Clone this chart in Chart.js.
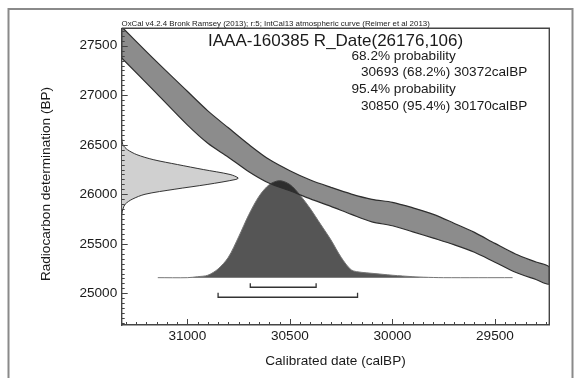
<!DOCTYPE html>
<html><head><meta charset="utf-8">
<script src="https://cdn.jsdelivr.net/npm/chart.js@4/dist/chart.umd.min.js"></script>
<style>html,body{margin:0;padding:0;background:#fff}#wrap{position:relative;width:581px;height:378px}</style>
</head><body><div id="wrap"><canvas id="c" width="581" height="378"></canvas></div>
<script>
const titleText = 'IAAA-160385 R_Date(26176,106)';
const noteText = 'OxCal v4.2.4 Bronk Ramsey (2013); r:5; IntCal13 atmospheric curve (Reimer et al 2013)';
const infoLines = ['68.2% probability', '30693 (68.2%) 30372calBP', '95.4% probability', '30850 (95.4%) 30170calBP'];
const xTitle = 'Calibrated date (calBP)';
const yTitle = 'Radiocarbon determination (BP)';
const xTickValues = [31000, 30500, 30000, 29500];
const yTickValues = [25000, 25500, 26000, 26500, 27000, 27500];

// calibration curve band (cal BP vs 14C BP, upper and lower edges)
const curveCalBP = [31320,31150,31000,30900,30800,30700,30600,30500,30400,30300,30200,30100,30000,29900,29800,29700,29600,29500,29400,29300,29235];
const curveUpper = [27690,27339,27040,26842,26671,26502,26350,26238,26144,26070,26002,25949,25919,25863,25797,25708,25615,25504,25397,25316,25265];
const curveLower = [27376,27019,26701,26515,26375,26228,26111,26035,25954,25878,25797,25722,25682,25621,25557,25491,25415,25314,25212,25139,25094];

// measured radiocarbon date distribution (relative probability)
const c14Values = [26560,26500,26450,26400,26350,26300,26250,26200,26165,26150,26100,26050,26000,25950,25900,25850,25800];
const c14Prob   = [0,0.01,0.05,0.13,0.27,0.48,0.70,0.93,1,0.98,0.74,0.45,0.20,0.09,0.03,0.01,0];

// calibrated date distribution (relative probability)
const calBP   = [31144,31000,30950,30900,30850,30800,30750,30700,30650,30600,30550,30500,30450,30400,30350,30300,30250,30200,30150,30100,30050,30000,29950,29900,29850,29800,29750,29414];
const calProb = [0,0,0.01,0.025,0.09,0.21,0.42,0.65,0.84,0.96,1.0,0.96,0.85,0.71,0.55,0.39,0.21,0.08,0.055,0.045,0.035,0.025,0.017,0.01,0.005,0.002,0,0];

// highest probability ranges
const range68 = [30693, 30372];
const range95 = [30850, 30170];

const FONT = "'Liberation Sans', Arial, sans-serif";

const bandPoints = curveCalBP.map((x, i) => ({x, y: curveUpper[i]}))
  .concat(curveCalBP.map((x, i) => ({x, y: curveLower[i]})).reverse());
const c14Points = c14Values.map((y, i) => ({x: c14Prob[i], y}));
const calPoints = calBP.map((x, i) => ({x, y: calProb[i]}));

const decor = {
  id: 'decor',
  beforeDraw(chart) {
    const ctx = chart.ctx;
    ctx.save();
    ctx.fillStyle = '#fff';
    ctx.fillRect(0, 0, chart.width, chart.height);
    ctx.restore();
  },
  afterDraw(chart) {
    const {ctx, chartArea: a, scales} = chart;
    const sx = scales.x, sy = scales.y, syp = scales.yp;
    ctx.save();
    // outer frame
    ctx.strokeStyle = '#8a8a8a';
    ctx.lineWidth = 2;
    ctx.beginPath();
    ctx.moveTo(8.5, 378); ctx.lineTo(8.5, 9); ctx.lineTo(572.5, 9); ctx.lineTo(572.5, 378);
    ctx.stroke();
    // plot frame top/right
    ctx.strokeStyle = '#444';
    ctx.lineWidth = 1.4;
    ctx.beginPath();
    ctx.moveTo(a.left, a.top); ctx.lineTo(a.right, a.top); ctx.lineTo(a.right, a.bottom);
    ctx.stroke();
    // ticks (inside)
    ctx.lineWidth = 1;
    ctx.strokeStyle = '#444';
    ctx.beginPath();
    for (let v = 29250; v <= 31300; v += 50) {
      const p = Math.round(sx.getPixelForValue(v)) + 0.5;
      const len = v % 500 === 0 ? 6 : 3;
      ctx.moveTo(p, a.bottom); ctx.lineTo(p, a.bottom - len);
    }
    for (let v = 24700; v <= 27650; v += 50) {
      const p = Math.round(sy.getPixelForValue(v)) + 0.5;
      const len = v % 500 === 0 ? 6 : 3;
      ctx.moveTo(a.left, p); ctx.lineTo(a.left + len, p);
    }
    ctx.stroke();
    // range brackets
    ctx.strokeStyle = '#333';
    ctx.lineWidth = 1.3;
    const bracket = (r, yLine, yEnd) => {
      const x1 = sx.getPixelForValue(r[0]), x2 = sx.getPixelForValue(r[1]);
      const yl = syp.getPixelForValue(yLine), ye = syp.getPixelForValue(yEnd);
      ctx.beginPath();
      ctx.moveTo(x1, ye); ctx.lineTo(x1, yl); ctx.lineTo(x2, yl); ctx.lineTo(x2, ye);
      ctx.stroke();
    };
    bracket(range68, -0.099, -0.058);
    bracket(range95, -0.202, -0.155);
    // texts
    ctx.fillStyle = '#1a1a1a';
    ctx.textBaseline = 'alphabetic';
    ctx.textAlign = 'left';
    ctx.font = '7.9px ' + FONT;
    ctx.fillText(noteText, 121.5, 26);
    ctx.textBaseline = 'middle';
    ctx.font = '17px ' + FONT;
    ctx.fillText(titleText, 208, 41);
    ctx.font = '13.6px ' + FONT;
    ctx.fillText(infoLines[0], 351.5, 56.5);
    ctx.fillText(infoLines[1], 361, 72);
    ctx.fillText(infoLines[2], 351.5, 89.5);
    ctx.fillText(infoLines[3], 361, 106);
    // y axis title
    ctx.translate(46.7, 184);
    ctx.rotate(-Math.PI / 2);
    ctx.textAlign = 'center';
    ctx.fillText(yTitle, 0, 0);
    ctx.restore();
  }
};

new Chart(document.getElementById('c'), {
  type: 'scatter',
  data: {
    datasets: [
      {
        label: 'IntCal13',
        data: bandPoints,
        showLine: true,
        xAxisID: 'x', yAxisID: 'y',
        pointRadius: 0,
        borderColor: '#2e2e2e',
        borderWidth: 1.2,
        backgroundColor: 'rgba(0,0,0,0.45)',
        fill: 'shape',
        tension: 0.3,
        order: 0
      },
      {
        label: 'R_Date',
        data: c14Points,
        showLine: true,
        xAxisID: 'xp', yAxisID: 'y',
        pointRadius: 0,
        borderColor: '#333',
        borderWidth: 1,
        backgroundColor: '#d0d0d0',
        fill: 'shape',
        tension: 0.3,
        order: 2
      },
      {
        label: 'Calibrated',
        data: calPoints,
        showLine: true,
        xAxisID: 'x', yAxisID: 'yp',
        pointRadius: 0,
        borderColor: '#777',
        borderWidth: 1,
        backgroundColor: '#555555',
        fill: 'origin',
        tension: 0.3,
        order: 1
      }
    ]
  },
  options: {
    responsive: false,
    devicePixelRatio: 1,
    animation: false,
    events: [],
    layout: {padding: {top: 28.3, right: 31.7, bottom: 0, left: 0}},
    plugins: {legend: {display: false}, tooltip: {enabled: false}, title: {display: false}},
    scales: {
      x: {
        type: 'linear', position: 'bottom', reverse: true,
        min: 29235, max: 31320,
        afterBuildTicks: s => { s.ticks = xTickValues.map(v => ({value: v})); },
        afterFit: s => { s.height = 53; },
        grid: {display: false, drawTicks: false},
        border: {display: true, color: '#444', width: 1.4},
        ticks: {font: {family: FONT, size: 13.6}, color: '#1a1a1a', padding: 3, maxRotation: 0, callback: v => String(v)},
        title: {display: true, text: xTitle, font: {family: FONT, size: 13.6}, color: '#1a1a1a', padding: {top: 0, bottom: 8.5}}
      },
      y: {
        type: 'linear', position: 'left',
        min: 24680, max: 27676,
        afterBuildTicks: s => { s.ticks = yTickValues.map(v => ({value: v})); },
        afterFit: s => { s.width = 121.7; },
        grid: {display: false, drawTicks: false},
        border: {display: true, color: '#444', width: 1.4},
        ticks: {font: {family: FONT, size: 13.6}, color: '#1a1a1a', padding: 4.5, callback: v => String(v)}
      },
      xp: {type: 'linear', display: false, min: 0, max: 3.67},
      yp: {type: 'linear', display: false, min: -0.488, max: 2.571}
    }
  },
  plugins: [decor]
});
</script>
</body></html>
